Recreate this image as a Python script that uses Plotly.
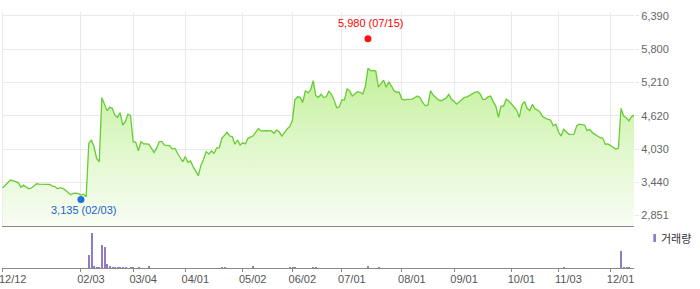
import plotly.graph_objects as go

# ---------------- data ----------------
# trading-day index (0 = 2024-12-12) and closing price
day_idx = [0, 2, 3, 4, 6, 7, 8, 9, 10, 11, 13, 14, 16, 17, 18, 19, 20, 21, 22, 23, 24,
           26, 27, 28, 29, 30, 31, 32, 33, 34, 35, 36, 37, 38, 39, 40, 41, 42, 43, 44, 45,
           46, 47, 48, 49, 50, 51, 52, 53, 54, 55, 56, 58, 59, 60, 61, 62, 64, 65, 66, 67,
           69, 70, 71, 72, 73, 75, 76, 77, 78, 79, 80, 81, 82, 83, 84, 86, 87, 88, 89, 90,
           91, 92, 93, 94, 95, 96, 98, 99, 101, 103, 104, 105, 106, 107, 108, 109, 110, 111,
           112, 113, 114, 115, 116, 117, 118, 119, 120, 121, 122, 123, 124, 125, 126, 127,
           128, 129, 130, 131, 132, 133, 134, 135, 136, 137, 138, 139, 140, 141, 142, 143,
           144, 145, 146, 147, 148, 149, 150, 151, 152, 153, 154, 155, 156, 157, 159, 160,
           161, 162, 163, 164, 165, 167, 168, 170, 171, 172, 173, 174, 176, 177, 178, 179,
           180, 181, 182, 183, 184, 185, 186, 187, 188, 189, 190, 191, 192, 193, 194, 195,
           196, 197, 198, 199, 200, 201, 202, 203, 204, 205, 206, 207, 209, 210, 211, 212,
           213, 214, 215, 216, 217, 219, 220, 221, 222, 223, 224, 225, 226, 227, 228, 229,
           230, 231, 232, 233, 234, 235, 236, 237, 238, 239, 240, 241, 242]
close_price = [3345, 3425, 3480, 3465, 3435, 3355, 3390, 3355, 3325, 3340, 3415, 3410, 3405,
               3415, 3405, 3375, 3365, 3325, 3345, 3335, 3305,
               3220, 3245, 3250, 3240, 3215, 3230, 3185, 4130, 4190, 4070, 3865, 3805, 4940,
               4840, 4710, 4770, 4750, 4630, 4590, 4675,
               4455, 4515, 4645, 4620, 4160, 4150, 4000, 4160, 4120, 4120, 4115, 3970, 4045,
               4160, 4160, 4100, 4090, 4030, 4045, 3955,
               3805, 3895, 3795, 3820, 3715, 3560, 3745, 3850, 3985, 3940, 3995, 3955, 4045,
               4055, 4220, 4325, 4260, 4250, 4115, 4190,
               4100, 4140, 4120, 4220, 4250, 4265, 4395, 4350, 4355, 4350, 4310, 4365, 4335,
               4260, 4320, 4385, 4425, 4530,
               4900, 4955, 4945, 4855, 5060, 5025, 5075, 5240, 4975, 4945, 5000, 4945, 4955,
               5055, 5000, 4900,
               4760, 4775, 4900, 4900, 5095, 5060, 4970, 5015, 5045, 5035, 5005, 5135, 5460,
               5420, 5415, 5415,
               5125, 5195, 5250, 5125, 5220, 5145, 5060, 5035, 5035, 4910, 4900, 4910, 4915,
               4915, 4970, 4940,
               4850, 4795, 4810, 5060, 4985, 4900, 4885, 4930, 5000, 4910, 4870, 4825, 4905,
               4945, 4955, 4980,
               5015, 5035, 5045, 5005, 4910, 4910, 4955, 4970, 4870, 4790, 4590, 4790, 4790,
               4910, 4880, 4820,
               4780, 4720, 4590, 4810, 4870, 4750, 4710, 4820, 4740, 4720, 4680, 4600, 4555,
               4545, 4440, 4470,
               4335, 4260, 4380, 4325, 4290, 4295, 4440, 4470, 4460, 4455, 4355, 4380, 4320,
               4290, 4260, 4230,
               4220, 4115, 4120, 4085, 4060, 4030, 4045, 4750, 4615, 4585, 4530, 4600, 4630]

# trading volume (only the days with a visible bar)
vol_idx = [33, 34, 35, 36, 37, 38, 39, 40, 41, 42, 43, 44, 45, 46, 47, 49, 50, 52, 56,
           84, 85, 96, 110, 111, 112, 119, 120, 140, 144, 215, 237, 238, 239, 240]
vol_val = [1330000, 3600000, 300000, 200000, 150000, 2330000, 2130000, 500000, 300000,
           200000, 100000, 100000, 100000, 100000, 100000, 100000, 100000, 100000, 300000,
           100000, 100000, 300000, 100000, 100000, 100000, 100000, 100000, 300000, 100000,
           100000, 1800000, 100000, 100000, 100000]

tick_idx = [0, 30, 50, 70, 92, 111, 130, 153, 173, 195, 213, 233]
tick_text = ["12/12", "02/03", "03/04", "04/01", "05/02", "06/02", "07/01",
             "08/01", "09/01", "10/01", "11/03", "12/01"]
price_ticks = [2851, 3440, 4030, 4620, 5210, 5800, 6390]

high_idx, high_val, high_date = 140, 5980, "07/15"
low_idx, low_val, low_date = 30, 3135, "02/03"

# ---------------- layout helpers ----------------
W, H = 700, 289


def px_x(p):
    return p / W


def px_y(p):
    return 1 - p / H


GRID = "#e9e9e9"
FONT = "Liberation Sans, Arial, sans-serif"
X0, X1 = -0.4, 242.0          # x range (trading-day index)
PX0 = 2.7 + X0 * 2.609        # pixel of range start
PX1 = 2.7 + X1 * 2.609

fig = go.Figure()

fig.add_trace(go.Scatter(
    x=day_idx, y=close_price, mode="lines",
    line=dict(color="#66cc33", width=1.3),
    fill="tozeroy",
    fillgradient=dict(type="vertical",
                      colorscale=[[0, "#f8fdf3"], [0.5, "#e0f8cb"], [1, "#c2f099"]],
                      start=2673, stop=5460),
    xaxis="x", yaxis="y", showlegend=False, hoverinfo="skip"))

fig.add_trace(go.Scatter(
    x=[high_idx], y=[high_val], mode="markers",
    marker=dict(color="#ff1111", size=7), xaxis="x", yaxis="y", showlegend=False))
fig.add_trace(go.Scatter(
    x=[low_idx], y=[low_val], mode="markers",
    marker=dict(color="#1f6fdd", size=7), xaxis="x", yaxis="y", showlegend=False))

fig.add_trace(go.Bar(
    x=vol_idx, y=vol_val, width=0.45,
    marker=dict(color="#8e7cc8", line=dict(width=0)),
    xaxis="x2", yaxis="y2", showlegend=False, name="거래량"))

xdom = [px_x(PX0), px_x(PX1)]

fig.update_layout(
    width=W, height=H,
    margin=dict(l=0, r=0, t=0, b=0, autoexpand=False),
    paper_bgcolor="white", plot_bgcolor="white",
    font=dict(family=FONT, size=11, color="#555"),
    bargap=0,
    xaxis=dict(domain=xdom, range=[X0, X1], anchor="y", automargin=False,
               tickvals=tick_idx, showticklabels=False, ticks="",
               showgrid=True, gridcolor=GRID, gridwidth=1,
               showline=True, linecolor="#8a8a8a", linewidth=1,
               zeroline=False),
    yaxis=dict(domain=[px_y(225.7), px_y(12)], range=[2673, 6455.5], anchor="x",
               automargin=False,
               side="right", tickvals=price_ticks, tickformat=",",
               showgrid=True, gridcolor=GRID, gridwidth=1,
               ticks="outside", ticklen=4, tickcolor=GRID,
               tickfont=dict(size=11, color="#666", family=FONT),
               zeroline=False, showline=False),
    xaxis2=dict(domain=xdom, range=[X0, X1], anchor="y2", matches="x", automargin=False,
                tickvals=tick_idx, ticktext=tick_text,
                ticks="outside", ticklen=3, tickcolor="#8a8a8a",
                showgrid=False, showline=True, linecolor="#8a8a8a", linewidth=1,
                zeroline=False, ticklabelshift=10, ticklabelstandoff=-3,
                ticklabeloverflow="allow",
                tickfont=dict(size=11, color="#555", family=FONT)),
    yaxis2=dict(domain=[px_y(268.3), px_y(225.7)], range=[0, 4260000], anchor="x2",
                automargin=False,
                showgrid=False, showticklabels=False, zeroline=False, showline=False,
                ticks=""),
)

fig.add_annotation(x=high_idx, y=high_val, xref="x", yref="y",
                   text=f"{high_val:,} ({high_date})", showarrow=False,
                   xshift=3, yshift=15.5,
                   font=dict(color="#ff0000", size=11, family=FONT))
fig.add_annotation(x=low_idx, y=low_val, xref="x", yref="y",
                   text=f"{low_val:,} ({low_date})", showarrow=False,
                   xshift=3, yshift=-10.5,
                   font=dict(color="#1a5fcf", size=11, family=FONT))

# volume legend
fig.add_shape(type="rect", xref="paper", yref="paper",
              x0=px_x(653.3), x1=px_x(656), y0=px_y(242), y1=px_y(234),
              fillcolor="#8e7cc8", line=dict(width=0))
fig.add_annotation(x=px_x(658.5), y=px_y(238), xref="paper", yref="paper",
                   xanchor="left", yanchor="middle", text="거래량", showarrow=False,
                   font=dict(family="Noto Sans CJK KR", size=11, color="#333"))

fig.write_html("out.html")
